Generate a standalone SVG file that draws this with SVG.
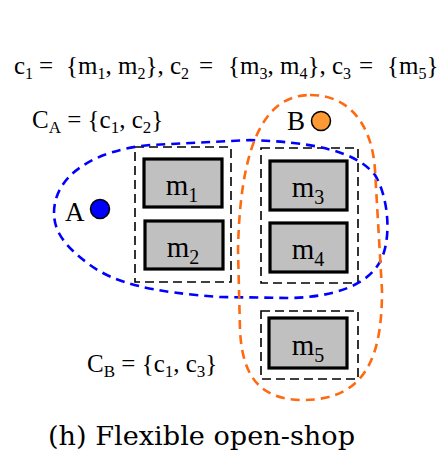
<svg xmlns="http://www.w3.org/2000/svg" width="448" height="462" viewBox="0 0 448 462">
<style>
.t{font-family:"Liberation Serif","Times New Roman",serif;fill:#000}
.top{font-size:25px}
.lab{font-size:25px}
.s{font-size:16px}
.s2{font-size:17px}
.ml{font-size:29px}
.ms{font-size:20px}
.cl{fill:none;stroke:#000;stroke-width:1.6;stroke-dasharray:9 5}
.mb{fill:#c0c0c0;stroke:#000;stroke-width:3.2}
.reg{fill:none;stroke-width:2.6;stroke-dasharray:9 6}
.cap{font-family:"DejaVu Serif","Liberation Serif",serif;font-size:26px;fill:#000}
</style>
<rect width="448" height="462" fill="#fff"/>
<text class="t top" y="74"><tspan x="14">c</tspan><tspan class="s" dy="5">1</tspan><tspan x="39" dy="-5">=</tspan><tspan x="66">{m</tspan><tspan class="s" dy="5">1</tspan><tspan dy="-5">, m</tspan><tspan class="s" dy="5">2</tspan><tspan dy="-5">},</tspan><tspan x="170">c</tspan><tspan class="s" dy="5">2</tspan><tspan x="199" dy="-5">=</tspan><tspan x="228">{m</tspan><tspan class="s" dy="5">3</tspan><tspan dy="-5">, m</tspan><tspan class="s" dy="5">4</tspan><tspan dy="-5">},</tspan><tspan x="332">c</tspan><tspan class="s" dy="5">3</tspan><tspan x="359" dy="-5">=</tspan><tspan x="387">{m</tspan><tspan class="s" dy="5">5</tspan><tspan dy="-5">}</tspan></text>
<g id="CA-label"><text class="t lab" y="128"><tspan x="32">C</tspan><tspan class="s2" dy="5">A</tspan><tspan dy="-5"> = {c</tspan><tspan class="s2" dy="5">1</tspan><tspan dy="-5">, c</tspan><tspan class="s2" dy="5">2</tspan><tspan dy="-5">}</tspan></text></g>
<g id="CB-label"><text class="t lab" y="372"><tspan x="87">C</tspan><tspan class="s2" dy="5">B</tspan><tspan dy="-5"> = {c</tspan><tspan class="s2" dy="5">1</tspan><tspan dy="-5">, c</tspan><tspan class="s2" dy="5">3</tspan><tspan dy="-5">}</tspan></text></g>
<g id="c1">
<rect class="cl" x="135" y="147" width="96" height="135"/>
<g id="m1"><rect class="mb" x="144" y="159" width="78" height="48"/><text class="t ml" x="182" y="195" text-anchor="middle">m<tspan class="ms" dy="7">1</tspan></text></g>
<g id="m2"><rect class="mb" x="145" y="221" width="78" height="48"/><text class="t ml" x="183" y="257" text-anchor="middle">m<tspan class="ms" dy="7">2</tspan></text></g>
</g>
<g id="c2">
<rect class="cl" x="261" y="148" width="97" height="135"/>
<g id="m3"><rect class="mb" x="270" y="161" width="77" height="49"/><text class="t ml" x="308" y="197" text-anchor="middle">m<tspan class="ms" dy="7">3</tspan></text></g>
<g id="m4"><rect class="mb" x="270" y="223" width="77" height="49"/><text class="t ml" x="308" y="259" text-anchor="middle">m<tspan class="ms" dy="7">4</tspan></text></g>
</g>
<g id="c3">
<rect class="cl" x="261" y="311" width="97" height="68"/>
<g id="m5"><rect class="mb" x="269" y="318" width="78" height="50"/><text class="t ml" x="308" y="355" text-anchor="middle">m<tspan class="ms" dy="7">5</tspan></text></g>
</g>
<g id="regionA"><path class="reg" stroke="#0000ff" d="M54,213 C54,175 95,150 150,145 L250,140 C310,142 355,150 375,175 C390,200 392,245 378,265 C365,285 335,297 290,298 L220,297 C150,292 115,283 90,265 C70,250 54,235 54,213 Z"/></g>
<g id="regionB"><path class="reg" stroke="#ff6a10" d="M310,95 C350,95 372,125 375,170 L382,290 C382,350 370,400 303,400 C255,400 242,370 240,330 L238,250 C240,150 262,95 310,95 Z"/></g>
<g id="A"><text class="t" style="font-size:27px" x="65" y="221">A</text><circle cx="100" cy="209" r="9.5" fill="#0000ff" stroke="#000" stroke-width="1.5"/></g>
<g id="B"><text class="t" style="font-size:27px" x="287" y="130">B</text><circle cx="321" cy="121" r="9.5" fill="#ff9933" stroke="#000" stroke-width="1.5"/></g>
<text class="cap" x="48" y="445" textLength="307" lengthAdjust="spacingAndGlyphs">(h) Flexible open-shop</text>
</svg>
